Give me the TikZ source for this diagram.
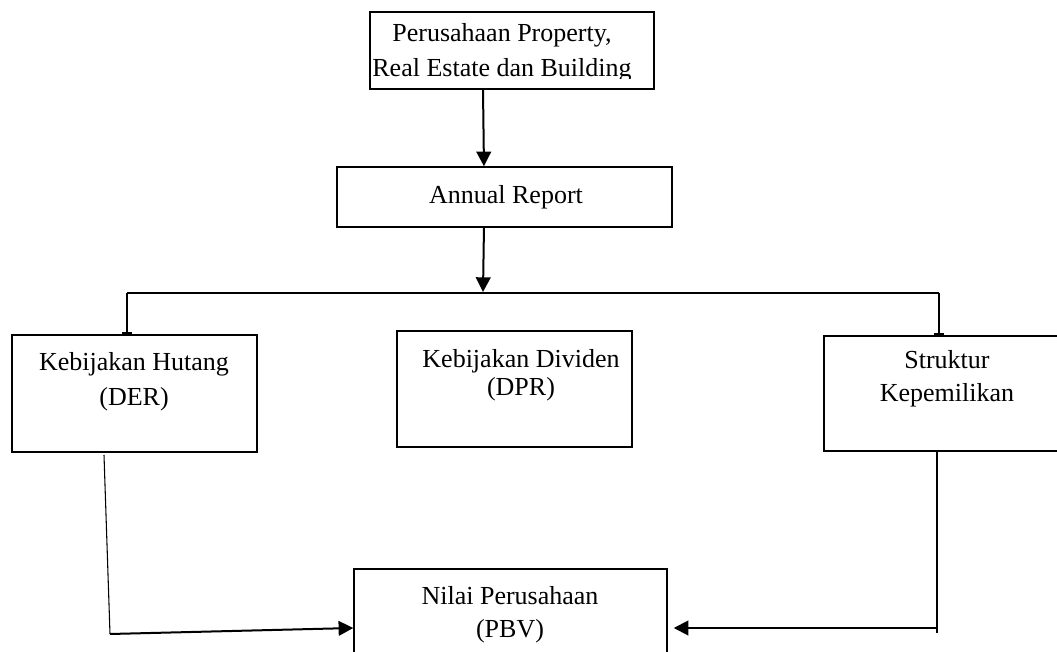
\documentclass[tikz,border=0pt]{standalone}
\usepackage{fontspec}
\setmainfont{Liberation Serif}
\usetikzlibrary{arrows.meta,calc}
\tikzset{
  box/.style={draw=black, line width=1.1pt, rectangle, inner sep=0pt},
  lbl/.style={inner sep=0pt, align=center, font=\fontsize{19.5}{26}\selectfont},
  arr/.style={line width=1.5pt, -{Triangle[width=11pt,length=11pt]}},
  thin/.style={line width=0.8pt},
  tee/.style={line width=1.5pt, -{Bar[width=7pt,line width=1.5pt]}}
}
\begin{document}
\begin{tikzpicture}[x=0.75pt,y=-0.75pt]
\useasboundingbox (0,0) rectangle (1057,652);
\clip (0,0) rectangle (1057,652);
\fill[white] (0,0) rectangle (1057,652);
% boxes
\node[box, minimum width=213pt, minimum height=57.75pt] (top) at (512,50.5) {};
\begin{scope}
\clip (371,13) rectangle (653,78.5);
\node[lbl] (topT) at (502,52.5) {Perusahaan Property,\\Real Estate dan Building};
\end{scope}
\node[box, minimum width=251.25pt, minimum height=45pt] (annual) at (504.5,197) {};
\node[lbl] (annualT) at (506,197) {Annual Report};
\node[box, minimum width=183.75pt, minimum height=87.75pt] (hut) at (134.5,393.5) {};
\node[lbl] (hutT) at (134,382) {Kebijakan Hutang\\(DER)};
\node[box, minimum width=176.25pt, minimum height=87pt] (div) at (514.5,389) {};
\node[lbl, font=\fontsize{19.5}{21}\selectfont] (divT) at (521,375) {Kebijakan Dividen\\(DPR)};
\node[box, minimum width=184.5pt, minimum height=86.25pt] (str) at (947,393.5) {};
\node[lbl, font=\fontsize{19.5}{24.5}\selectfont] (strT) at (947,379) {Struktur\\Kepemilikan};
\node[box, minimum width=234.75pt, minimum height=72pt] (nilai) at (510.5,617) {};
\node[lbl, font=\fontsize{19.5}{25}\selectfont] (nilaiT) at (510,615) {Nilai Perusahaan\\(PBV)};
% junction coordinates
\coordinate (j) at (483,292);
\coordinate (jl) at (127,293);
\coordinate (jr) at (939,293);
\coordinate (ht) at (104,455);
\coordinate (bl) at (110,634);
\coordinate (br) at (937,633);
\coordinate (brh) at (937,628);
% connectors
\draw[arr] ([xshift=-21.75pt]top.south) -- ([xshift=-15.4pt]annual.north);
\draw[arr] ([xshift=-15.4pt]annual.south) -- (j);
\draw[line width=1.5pt] (jl) -- (jr);
\draw[tee] (jl) -- (jl |- hut.north);
\draw[tee] (jr) -- (jr |- str.north);
\draw[thin] (ht) -- (bl);
\draw[arr] (bl) -- ([yshift=-8.25pt]nilai.west);
\draw[thin] ([xshift=-7.5pt]str.south) -- (br);
\draw[arr] (brh) -- ([xshift=4.5pt,yshift=-8.25pt]nilai.east);
\end{tikzpicture}
\end{document}
